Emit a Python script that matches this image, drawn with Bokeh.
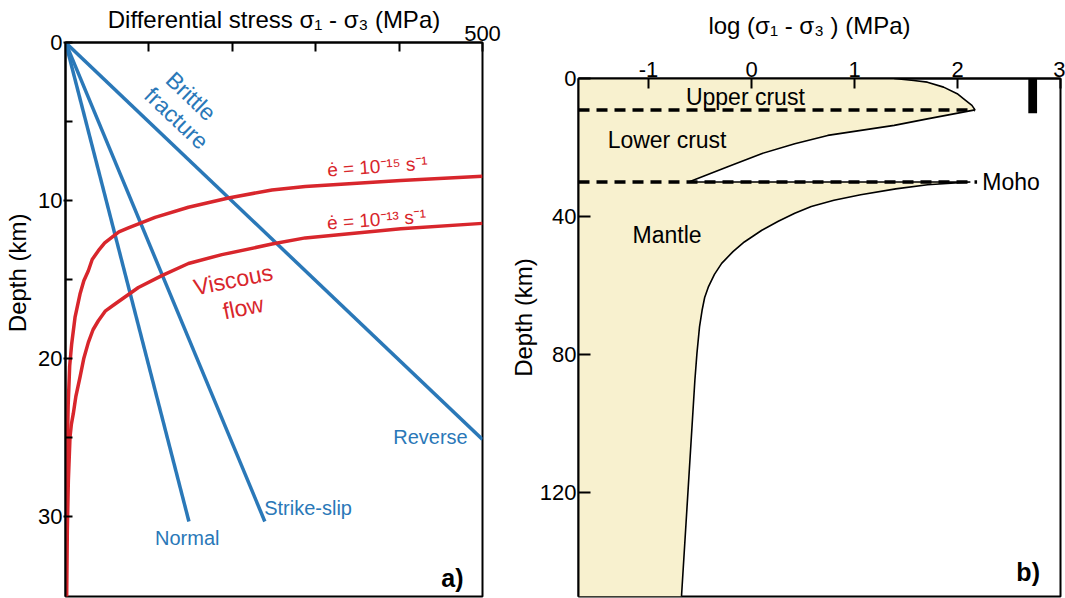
import math
from bokeh.plotting import figure
from bokeh.models import Range1d, FixedTicker, Label
from bokeh.embed import file_html
from bokeh.resources import INLINE

# ---------------- Panel a data ----------------
fault_names = ["Normal", "Strike-slip", "Reverse"]
fault_end_stress = [148, 239, 500]
fault_end_depth = [30.35, 30.35, 25.15]

creep15_stress = [500, 402, 287.5, 247.5, 195.4, 147.4, 107.4, 75.4, 64, 55.5, 47, 39.4, 32,
                  27.4, 22, 17.4, 11.4, 7.4, 5.0, 3.2, 2.0, 1.2, 0.5]
creep15_depth = [8.47, 8.75, 9.13, 9.34, 9.85, 10.44, 11.08, 11.75, 12.0, 12.35, 12.7, 13.19, 13.75,
                 14.46, 15.1, 15.94, 17.42, 19.1, 20.5, 23.0, 26.0, 30.0, 35.1]
creep13_stress = [500, 402, 287.5, 247.5, 187.5, 147.4, 115.5, 87.4, 59.4, 48, 39.4, 33, 27.4,
                  22, 17.4, 12.5, 9.4, 7.0, 5.4, 3.4, 2.2, 1.4]
creep13_depth = [11.46, 11.8, 12.38, 12.77, 13.44, 14.0, 14.77, 15.52, 16.57, 17.0, 17.63, 18.2, 19.0,
                 20.0, 21.2, 22.4, 23.5, 24.2, 25.0, 27.8, 30.9, 35.1]

# ---------------- Panel b data ----------------
boundary_log = [1.385, 1.575, 1.707, 1.865, 1.997, 2.06, 2.14, 2.17,
                1.707, 1.385, 0.74, 0.42, 0.097, -0.225, -0.61,
                2.125, 1.71, 1.4, 1.06, 0.8, 0.58, 0.42, 0.26, 0.1, -0.07, -0.18, -0.29,
                -0.36, -0.42, -0.455, -0.48, -0.505, -0.53, -0.55, -0.68]
boundary_depth = [0, 0.6, 1.06, 2.5, 4.4, 5.9, 7.8, 9.1,
                  11.7, 13.6, 16.5, 18.9, 21.8, 25.5, 30.0,
                  30.0, 30.8, 32.0, 33.7, 35.3, 37.1, 39.1, 41.4, 44.0, 47.4, 50.2, 53.6,
                  56.8, 60.5, 63.5, 67.2, 72.0, 79.7, 87.5, 150.2]
layer_depth = [9.1, 30.0]
layer_dash_end = [2.17, 2.19]
bar_log = [2.73]
bar_top = [0]
bar_bottom = [10.1]

FONT = "Liberation Sans"
BLUE = "#2a78b8"
RED = "#d8262c"
BEIGE = "#f8f1cf"
NB = "\u00a0"


def lab(p, x, y, text, size="22px", color="black", align="center",
        baseline="middle", angle=0.0, style="normal"):
    p.add_layout(Label(x=x, y=y, text=text, text_font=FONT, text_font_size=size,
                       text_color=color, text_align=align, text_baseline=baseline,
                       angle=angle, text_font_style=style))


def style_axes(p):
    p.grid.visible = False
    p.outline_line_color = "black"
    p.outline_line_width = 2
    p.outline_line_alpha = 1
    for ax in p.axis:
        ax.axis_line_width = 2
        ax.axis_line_color = "black"
        ax.major_tick_line_width = 2
        ax.minor_tick_line_width = 2
        ax.major_tick_line_color = "black"
        ax.minor_tick_line_color = "black"
        ax.major_label_text_font = FONT
        ax.major_label_text_font_size = "22px"
        ax.major_label_text_color = "black"
        ax.axis_label_text_font = FONT
        ax.axis_label_text_font_size = "24px"
        ax.axis_label_text_font_style = "normal"
        ax.axis_label_text_color = "black"


# ---------------- Panel a ----------------
pa = figure(width=505, height=598, x_range=Range1d(0, 500), y_range=Range1d(35.1, 0),
            x_axis_location="above", toolbar_location=None, output_backend="svg",
            min_border_left=65, min_border_right=23, min_border_top=42, min_border_bottom=2)
style_axes(pa)
pa.xaxis.ticker = FixedTicker(ticks=[500], minor_ticks=[100, 200, 300, 400])
pa.xaxis.major_tick_in = 9
pa.xaxis.major_tick_out = 0
pa.xaxis.minor_tick_in = 9
pa.xaxis.minor_tick_out = 0
pa.xaxis.major_label_standoff = 2
pa.xaxis.axis_label = "Differential stress σ₁ - σ₃ (MPa)"
pa.xaxis.axis_label_standoff = -10
pa.yaxis.ticker = FixedTicker(ticks=[0, 10, 20, 30], minor_ticks=[5, 15, 25])
pa.yaxis.major_tick_in = 7
pa.yaxis.major_tick_out = 2
pa.yaxis.minor_tick_in = 7
pa.yaxis.minor_tick_out = 0
pa.yaxis.major_label_standoff = 1
pa.yaxis.axis_label = NB * 14 + "Depth (km)"
pa.yaxis.axis_label_standoff = 4

for name, xs, ds in zip(fault_names, fault_end_stress, fault_end_depth):
    pa.line([0, xs], [0, ds], line_color=BLUE, line_width=3.5)
pa.line(creep15_stress, creep15_depth, line_color=RED, line_width=3.5, line_join="round")
pa.line(creep13_stress, creep13_depth, line_color=RED, line_width=3.5, line_join="round")

lab(pa, 150.5, 3.4, "Brittle", size="23px", color=BLUE, angle=-0.76)
lab(pa, 133.2, 4.8, "fracture", size="23px", color=BLUE, angle=-0.76)
lab(pa, 201, 15.03, "Viscous", size="23px", color=RED, angle=0.2)
lab(pa, 213, 16.8, "flow", size="23px", color=RED, angle=0.2)
lab(pa, 374, 7.86, "ė = 10⁻¹⁵ s⁻¹", size="19px", color=RED, angle=0.07)
lab(pa, 373, 11.22, "ė = 10⁻¹³ s⁻¹", size="19px", color=RED, angle=0.07)
lab(pa, 146, 31.4, "Normal", size="20px", color=BLUE)
lab(pa, 238.2, 29.5, "Strike-slip", size="20px", color=BLUE, align="left")
lab(pa, 437.6, 25.0, "Reverse", size="20px", color=BLUE)
lab(pa, 464, 33.9, "a)", size="25px", style="bold")

# ---------------- Panel b ----------------
XL = -1.68
pb = figure(width=560, height=598, x_range=Range1d(XL, 3.0), y_range=Range1d(150.2, 0),
            x_axis_location="above", toolbar_location=None, output_backend="svg",
            min_border_left=73, min_border_right=5, min_border_top=78, min_border_bottom=2)
style_axes(pb)
pb.xaxis.ticker = FixedTicker(ticks=[-1, 0, 1, 2, 3])
pb.xaxis.major_label_overrides = {-1: "-1"}
pb.xaxis.major_tick_in = 10
pb.xaxis.major_tick_out = 0
pb.xaxis.major_label_standoff = 2
pb.xaxis.axis_label = "log (σ₁ - σ₃ ) (MPa)" + NB * 3
pb.xaxis.axis_label_standoff = 20
pb.yaxis.ticker = FixedTicker(ticks=[0, 40, 80, 120])
pb.yaxis.major_tick_in = 12
pb.yaxis.major_tick_out = 0
pb.yaxis.major_label_standoff = 2
pb.yaxis.axis_label = NB * 6 + "Depth (km)"
pb.yaxis.axis_label_standoff = 0

pb.patch([XL - 0.1] + boundary_log + [XL - 0.1], [0] + boundary_depth + [150.2],
         fill_color=BEIGE, line_color=None)
pb.line(boundary_log, boundary_depth, line_color="black", line_width=1.6)
pb.segment(x0=[XL] * len(layer_depth), y0=layer_depth, x1=layer_dash_end, y1=layer_depth,
           line_color="black", line_width=3.5, line_dash="11 7")
pb.vbar(x=bar_log, width=0.085, top=bar_top, bottom=bar_bottom, fill_color="black",
        line_color=None)

lab(pb, -0.06, 5.4, "Upper crust", size="23px")
lab(pb, -0.82, 17.7, "Lower crust", size="23px")
lab(pb, -0.82, 45.4, "Mantle", size="23px")
lab(pb, 2.24, 30.0, "Moho", size="23px", align="left")
lab(pb, 2.686, 143.2, "b)", size="25px", style="bold")

# Two independent roots laid side by side (no frame alignment between panels)
SIDE_BY_SIDE = ("{% block postamble %}<style>html, body { display: flex !important; "
                "flex-direction: row; align-items: flex-start; margin: 0; padding: 0; }"
                "</style>{% endblock %}")
open("out.html", "w").write(file_html([pa, pb], INLINE, template=SIDE_BY_SIDE))
